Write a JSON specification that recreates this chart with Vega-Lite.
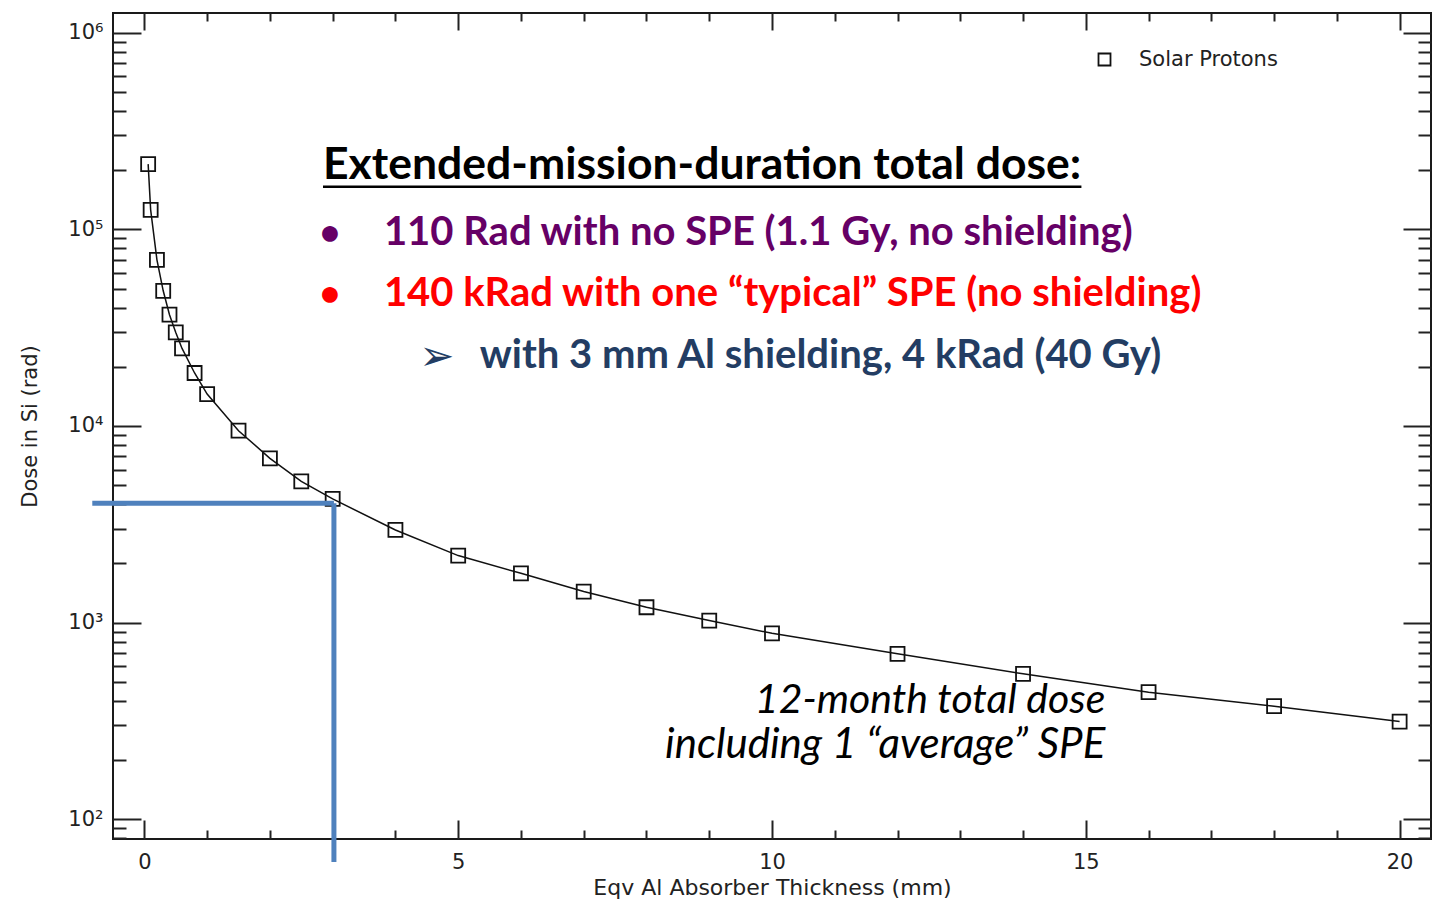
{
  "$schema": "https://vega.github.io/schema/vega-lite/v6.json",
  "autosize": {"type": "none"},
  "padding": {"left": 113, "top": 13, "right": 10, "bottom": 70},
  "width": 1318,
  "height": 826,
  "background": "white",
  "config": {
    "view": {"stroke": "#1a1a1a", "strokeWidth": 2},
    "axis": {
      "domain": false, "grid": false,
      "tickColor": "#222", "tickWidth": 2,
      "labelFont": "DejaVu Sans", "labelFontSize": 21, "labelColor": "#222",
      "titleFont": "DejaVu Sans", "titleFontWeight": "normal", "titleFontSize": 21, "titleColor": "#222",
      "labelFlush": false, "labelOverlap": false
    }
  },
  "datasets": {
    "dose": [
      {"thickness": 0.06, "dose": 214500, "series": "Solar Protons"},
      {"thickness": 0.1, "dose": 125600, "series": "Solar Protons"},
      {"thickness": 0.2, "dose": 70000, "series": "Solar Protons"},
      {"thickness": 0.3, "dose": 48700, "series": "Solar Protons"},
      {"thickness": 0.4, "dose": 36800, "series": "Solar Protons"},
      {"thickness": 0.5, "dose": 29900, "series": "Solar Protons"},
      {"thickness": 0.6, "dose": 24800, "series": "Solar Protons"},
      {"thickness": 0.8, "dose": 18600, "series": "Solar Protons"},
      {"thickness": 1.0, "dose": 14540, "series": "Solar Protons"},
      {"thickness": 1.5, "dose": 9465, "series": "Solar Protons"},
      {"thickness": 2.0, "dose": 6845, "series": "Solar Protons"},
      {"thickness": 2.5, "dose": 5230, "series": "Solar Protons"},
      {"thickness": 3.0, "dose": 4256, "series": "Solar Protons"},
      {"thickness": 4.0, "dose": 2961, "series": "Solar Protons"},
      {"thickness": 5.0, "dose": 2193, "series": "Solar Protons"},
      {"thickness": 6.0, "dose": 1782, "series": "Solar Protons"},
      {"thickness": 7.0, "dose": 1439, "series": "Solar Protons"},
      {"thickness": 8.0, "dose": 1198, "series": "Solar Protons"},
      {"thickness": 9.0, "dose": 1025, "series": "Solar Protons"},
      {"thickness": 10.0, "dose": 883, "series": "Solar Protons"},
      {"thickness": 12.0, "dose": 694, "series": "Solar Protons"},
      {"thickness": 14.0, "dose": 549.5, "series": "Solar Protons"},
      {"thickness": 16.0, "dose": 443, "series": "Solar Protons"},
      {"thickness": 18.0, "dose": 376, "series": "Solar Protons"},
      {"thickness": 20.0, "dose": 314, "series": "Solar Protons"}
    ]
  },
  "resolve": {"axis": {"x": "independent", "y": "independent"}},
  "layer": [
    {
      "data": {"name": "dose"},
      "mark": {"type": "line", "color": "#111", "strokeWidth": 1.5},
      "encoding": {
        "x": {"field": "thickness", "type": "quantitative",
          "scale": {"domain": [-0.5, 20.5], "nice": false, "zero": false},
          "axis": {"orient": "bottom", "values": [0, 5, 10, 15, 20], "tickSize": -19, "labelPadding": 31, "title": "Eqv Al Absorber Thickness (mm)", "titleFontSize": 22, "titlePadding": 5}},
        "y": {"field": "dose", "type": "quantitative",
          "scale": {"type": "log", "domain": [79.43, 1258925], "nice": false},
          "axis": {"orient": "left", "values": [100, 1000, 10000, 100000, 1000000], "tickSize": -28, "labelPadding": 38,
            "labelExpr": "'10' + ['⁰','¹','²','³','⁴','⁵','⁶'][round(log(datum.value)/LN10)]",
            "title": "Dose in Si (rad)", "titlePadding": 27}}
      }
    },
    {
      "data": {"name": "dose"},
      "mark": {"type": "point", "filled": false, "size": 196, "strokeWidth": 1.8, "color": "#111", "opacity": 1},
      "encoding": {
        "x": {"field": "thickness", "type": "quantitative",
          "scale": {"domain": [-0.5, 20.5], "nice": false, "zero": false},
          "axis": {"orient": "bottom", "values": [1, 2, 3, 4, 6, 7, 8, 9, 11, 12, 13, 14, 16, 17, 18, 19], "tickSize": -9, "labels": false, "title": null}},
        "y": {"field": "dose", "type": "quantitative",
          "scale": {"type": "log", "domain": [79.43, 1258925], "nice": false},
          "axis": {"orient": "left", "values": [80, 90, 200, 300, 400, 500, 600, 700, 800, 900, 2000, 3000, 4000, 5000, 6000, 7000, 8000, 9000, 20000, 30000, 40000, 50000, 60000, 70000, 80000, 90000, 200000, 300000, 400000, 500000, 600000, 700000, 800000, 900000], "tickSize": -13, "labels": false, "title": null}},
        "shape": {"field": "series", "type": "nominal", "scale": {"range": ["square"]},
          "legend": {"orient": "none", "legendX": 981, "legendY": 36, "title": null, "padding": 0,
            "labelFont": "DejaVu Sans", "labelFontSize": 21, "labelColor": "#222", "labelOffset": 24,
            "symbolSize": 144, "symbolStrokeWidth": 1.8, "symbolStrokeColor": "#111", "symbolType": "square"}}
      }
    },
    {
      "data": {"name": "dose"},
      "mark": {"type": "point", "opacity": 0},
      "encoding": {
        "x": {"field": "thickness", "type": "quantitative",
          "scale": {"domain": [-0.5, 20.5], "nice": false, "zero": false},
          "axis": {"orient": "top", "values": [0, 5, 10, 15, 20], "tickSize": -17, "labels": false, "title": null}},
        "y": {"field": "dose", "type": "quantitative",
          "scale": {"type": "log", "domain": [79.43, 1258925], "nice": false},
          "axis": {"orient": "right", "values": [100, 1000, 10000, 100000, 1000000], "tickSize": -28, "labels": false, "title": null}}
      }
    },
    {
      "data": {"name": "dose"},
      "mark": {"type": "point", "opacity": 0},
      "encoding": {
        "x": {"field": "thickness", "type": "quantitative",
          "scale": {"domain": [-0.5, 20.5], "nice": false, "zero": false},
          "axis": {"orient": "top", "values": [1, 2, 3, 4, 6, 7, 8, 9, 11, 12, 13, 14, 16, 17, 18, 19], "tickSize": -8, "labels": false, "title": null}},
        "y": {"field": "dose", "type": "quantitative",
          "scale": {"type": "log", "domain": [79.43, 1258925], "nice": false},
          "axis": {"orient": "right", "values": [80, 90, 200, 300, 400, 500, 600, 700, 800, 900, 2000, 3000, 4000, 5000, 6000, 7000, 8000, 9000, 20000, 30000, 40000, 50000, 60000, 70000, 80000, 90000, 200000, 300000, 400000, 500000, 600000, 700000, 800000, 900000], "tickSize": -13, "labels": false, "title": null}}
      }
    },
    {
      "data": {"values": [{}]},
      "mark": {"type": "rule", "color": "#4F81BD", "strokeWidth": 5},
      "encoding": {
        "x": {"datum": -0.83, "type": "quantitative", "axis": null},
        "x2": {"datum": 3.02},
        "y": {"datum": 4050, "type": "quantitative", "axis": null}
      }
    },
    {
      "data": {"values": [{}]},
      "mark": {"type": "rule", "color": "#4F81BD", "strokeWidth": 5},
      "encoding": {
        "x": {"datum": 3.02, "type": "quantitative", "axis": null},
        "y": {"datum": 4050, "type": "quantitative", "axis": null},
        "y2": {"datum": 60.7}
      }
    },
    {
      "data": {"values": [{}]},
      "mark": {"type": "text", "font": "Lato", "fontWeight": "bold", "fontSize": 44.5, "align": "left", "baseline": "alphabetic", "color": "#000", "text": "Extended-mission-duration total dose:"},
      "encoding": {
        "x": {"datum": 2.846, "type": "quantitative", "axis": null},
        "y": {"datum": 181000, "type": "quantitative", "axis": null}
      }
    },
    {
      "data": {"values": [{}]},
      "mark": {"type": "rule", "color": "#000", "strokeWidth": 2.5},
      "encoding": {
        "x": {"datum": 2.846, "type": "quantitative", "axis": null},
        "x2": {"datum": 14.93},
        "y": {"datum": 164400, "type": "quantitative", "axis": null}
      }
    },
    {
      "data": {"values": [{}]},
      "mark": {"type": "text", "font": "Lato", "fontWeight": "bold", "fontSize": 36, "align": "center", "baseline": "alphabetic", "color": "#660066", "text": "•"},
      "encoding": {
        "x": {"datum": 2.957, "type": "quantitative", "axis": null},
        "y": {"datum": 83400, "type": "quantitative", "axis": null}
      }
    },
    {
      "data": {"values": [{}]},
      "mark": {"type": "text", "font": "Lato", "fontWeight": "bold", "fontSize": 40, "align": "left", "baseline": "alphabetic", "color": "#660066", "text": "110 Rad with no SPE (1.1 Gy, no shielding)"},
      "encoding": {
        "x": {"datum": 3.816, "type": "quantitative", "axis": null},
        "y": {"datum": 83400, "type": "quantitative", "axis": null}
      }
    },
    {
      "data": {"values": [{}]},
      "mark": {"type": "text", "font": "Lato", "fontWeight": "bold", "fontSize": 36, "align": "center", "baseline": "alphabetic", "color": "#FF0000", "text": "•"},
      "encoding": {
        "x": {"datum": 2.957, "type": "quantitative", "axis": null},
        "y": {"datum": 40870, "type": "quantitative", "axis": null}
      }
    },
    {
      "data": {"values": [{}]},
      "mark": {"type": "text", "font": "Lato", "fontWeight": "bold", "fontSize": 40, "align": "left", "baseline": "alphabetic", "color": "#FF0000", "text": "140 kRad with one “typical” SPE (no shielding)"},
      "encoding": {
        "x": {"datum": 3.816, "type": "quantitative", "axis": null},
        "y": {"datum": 40870, "type": "quantitative", "axis": null}
      }
    },
    {
      "data": {"values": [{}]},
      "mark": {"type": "text", "font": "DejaVu Sans", "fontSize": 42, "align": "left", "baseline": "alphabetic", "color": "#233D63", "text": "➢"},
      "encoding": {
        "x": {"datum": 4.38, "type": "quantitative", "axis": null},
        "y": {"datum": 19300, "type": "quantitative", "axis": null}
      }
    },
    {
      "data": {"values": [{}]},
      "mark": {"type": "text", "font": "Lato", "fontWeight": "bold", "fontSize": 40, "align": "left", "baseline": "alphabetic", "color": "#233D63", "text": "with 3 mm Al shielding, 4 kRad (40 Gy)"},
      "encoding": {
        "x": {"datum": 5.342, "type": "quantitative", "axis": null},
        "y": {"datum": 19780, "type": "quantitative", "axis": null}
      }
    },
    {
      "data": {"values": [{}]},
      "mark": {"type": "text", "font": "Lato", "fontStyle": "italic", "fontSize": 41, "align": "right", "baseline": "alphabetic", "color": "#000", "text": "12-month total dose"},
      "encoding": {
        "x": {"datum": 15.31, "type": "quantitative", "axis": null},
        "y": {"datum": 349.3, "type": "quantitative", "axis": null}
      }
    },
    {
      "data": {"values": [{}]},
      "mark": {"type": "text", "font": "Lato", "fontStyle": "italic", "fontSize": 42, "align": "right", "baseline": "alphabetic", "color": "#000", "text": "including 1 “average” SPE"},
      "encoding": {
        "x": {"datum": 15.31, "type": "quantitative", "axis": null},
        "y": {"datum": 203.9, "type": "quantitative", "axis": null}
      }
    }
  ]
}
